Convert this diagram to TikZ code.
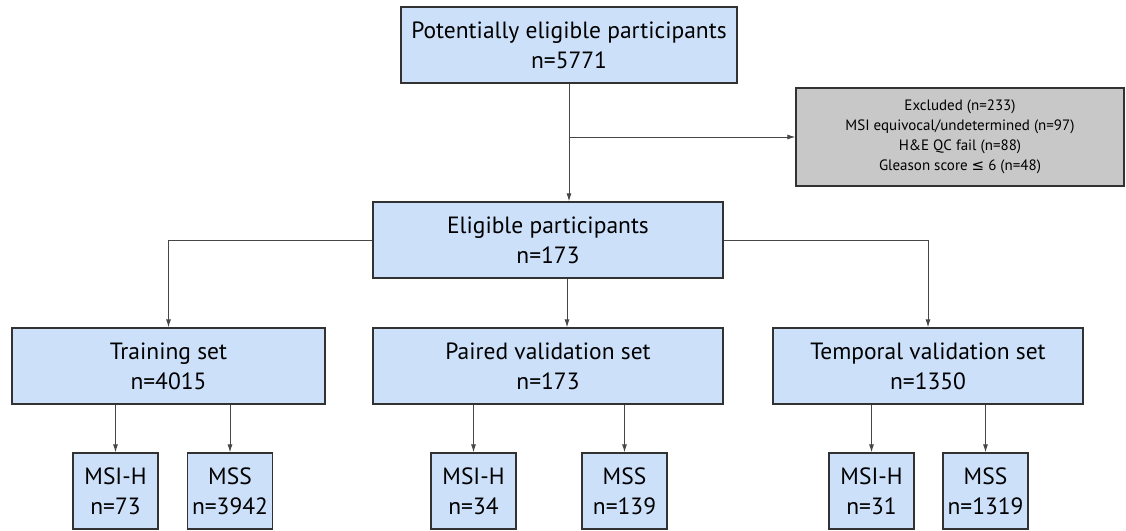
\documentclass[tikz,border=0pt]{standalone}
\usepackage{fontspec}
\setmainfont{PT Sans}
\newfontfamily\symfont{DejaVu Sans}
\usetikzlibrary{arrows.meta}
\definecolor{boxblue}{RGB}{204,224,250}
\definecolor{boxgray}{RGB}{200,200,200}
\definecolor{edge}{RGB}{50,50,50}
\definecolor{conn}{RGB}{70,70,70}
\tikzset{
  box/.style={draw=edge, line width=1.3pt, fill=boxblue, inner sep=0pt, align=center,
    font=\fontsize{23.5}{30}\selectfont},
  smallbox/.style={box, minimum width=85pt, minimum height=76pt},
  exbox/.style={draw=edge, line width=1.3pt, fill=boxgray, inner sep=0pt, align=center,
    font=\fontsize{15}{20}\selectfont, minimum width=328pt, minimum height=98pt},
  conn/.style={draw=conn, line width=0.9pt},
  arr/.style={conn, -{Latex[length=8pt,width=5pt]}}
}
\begin{document}
\begin{tikzpicture}[x=1pt,y=-1pt]
\useasboundingbox (0,0) rectangle (1126,530);
\node[box, minimum width=336pt, minimum height=76pt] (top) at (569,45) {Potentially eligible participants\\n=5771};
\node[exbox] (excl) at (960,137) {Excluded (n=233)\\MSI equivocal/undetermined (n=97)\\H\&E QC fail (n=88)\\Gleason score {\symfont ≤} 6 (n=48)};
\node[box, minimum width=350pt, minimum height=76pt] (elig) at (548,240) {Eligible participants\\n=173};
\node[box, minimum width=313pt, minimum height=76pt] (train) at (168.5,366) {Training set\\n=4015};
\node[box, minimum width=350pt, minimum height=76pt] (paired) at (548,366) {Paired validation set\\n=173};
\node[box, minimum width=310pt, minimum height=76pt] (temp) at (928,366) {Temporal validation set\\n=1350};
\node[smallbox] (h1) at (115.5,491) {MSI-H\\n=73};
\node[smallbox] (s1) at (230,491) {MSS\\n=3942};
\node[smallbox] (h2) at (473.5,491) {MSI-H\\n=34};
\node[smallbox] (s2) at (624.5,491) {MSS\\n=139};
\node[smallbox] (h3) at (871.5,491) {MSI-H\\n=31};
\node[smallbox] (s3) at (985.5,491) {MSS\\n=1319};
\coordinate (split) at (569,137);
\coordinate (trunk) at (567,0);
\draw[arr] (top.south) -- (top.south |- elig.north);
\draw[arr] (split) -- (excl.west);
\draw[arr] (elig.west) -| (train.north);
\draw[arr] (elig.east) -| (temp.north);
\draw[arr] (trunk |- elig.south) -- (trunk |- paired.north);
\draw[arr] (train.south -| h1.north) -- (h1.north);
\draw[arr] (train.south -| s1.north) -- (s1.north);
\draw[arr] (paired.south -| h2.north) -- (h2.north);
\draw[arr] (paired.south -| s2.north) -- (s2.north);
\draw[arr] (temp.south -| h3.north) -- (h3.north);
\draw[arr] (temp.south -| s3.north) -- (s3.north);
\end{tikzpicture}
\end{document}
